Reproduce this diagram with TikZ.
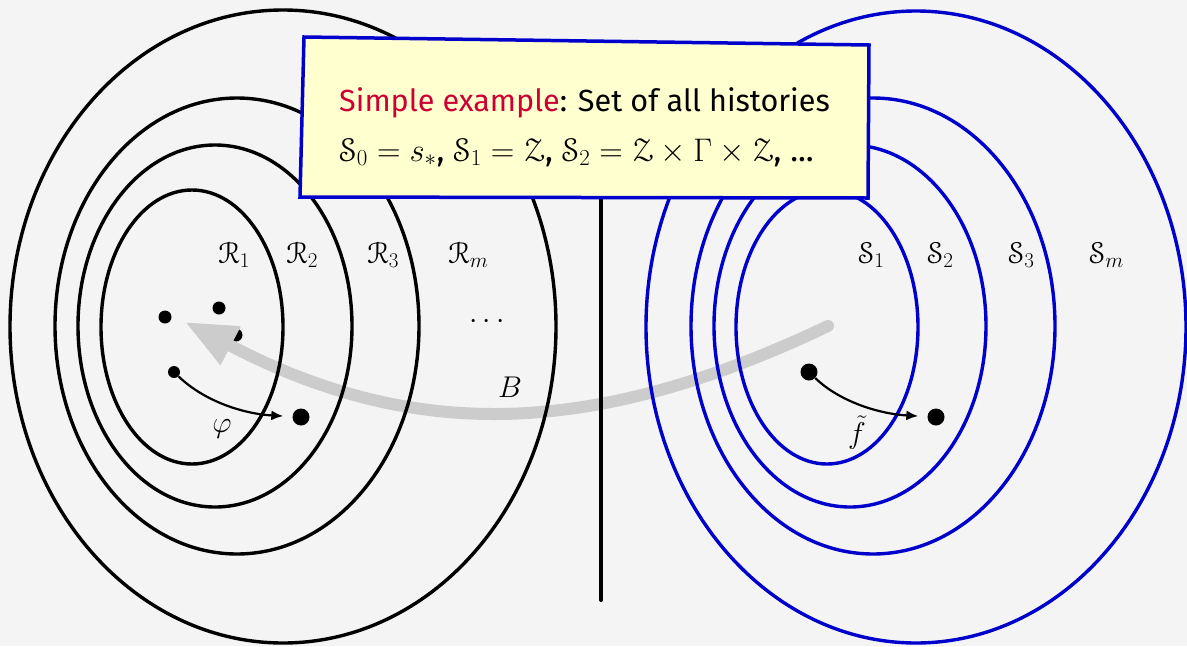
\RequirePackage{fix-cm}
\documentclass[tikz,border=0pt]{standalone}
\usepackage[mathcal]{euscript}
\DeclareFontFamily{U}{eus}{\skewchar\font'60}
\DeclareFontShape{U}{eus}{m}{n}{<-6>eusm5<6-8>eusm7<8->eusm10}{}
\DeclareFontShape{U}{eus}{b}{n}{<-6>eusb5<6-8>eusb7<8->eusb10}{}
\usepackage[no-math]{fontspec}
\newfontfamily\boxfont{Fira Sans}
\usetikzlibrary{arrows.meta}
\definecolor{bg}{RGB}{244,244,244}
\definecolor{dblue}{RGB}{0,0,204}
\definecolor{crim}{RGB}{204,0,51}
\definecolor{notey}{RGB}{255,255,208}
\definecolor{bgray}{RGB}{204,204,204}
\begin{document}
\begin{tikzpicture}[x=1pt,y=-1pt,
  ring/.style={line width=3.4pt, draw=black},
  bring/.style={line width=3.4pt, draw=dblue},
  dot/.style={circle, fill=black, inner sep=0pt, minimum size=13pt},
  bigdot/.style={circle, fill=black, inner sep=0pt, minimum size=17pt},
  maplink/.style={line width=2.2pt, -{Latex[length=12pt,width=10pt]}, shorten >=9pt},
  lab/.style={font=\fontsize{30}{36}\selectfont, inner sep=0pt},
  boxtext/.style={anchor=base west, inner sep=0pt, font=\boxfont\fontsize{30.6}{36}\selectfont}
]
\fill[bg] (0,0) rectangle (1187,646);
\useasboundingbox (0,0) rectangle (1187,646);

% dots
\node[dot] (a) at (165,317) {};
\node[dot] (b) at (219,308) {};
\node[dot] (c) at (236,335) {};
\node[dot, minimum size=12pt] (d) at (174,372) {};
\node[bigdot] (e) at (301,417) {};
\node[bigdot] (d2) at (809,372) {};
\node[bigdot] (e2) at (936,417) {};

% big gray arrow B
\coordinate (bs) at (828,326);
\coordinate (bt) at (187,323);
\draw[bgray, line width=12pt, line cap=round,
  -{Triangle[length=50pt,width=44pt,line width=1pt,round]}]
  (bs) .. controls (601,434) and (421,445) .. (bt);

% left ellipses
\draw[ring] (192,327) ellipse [x radius=91, y radius=137];
\draw[ring] (215,326) ellipse [x radius=137, y radius=181];
\draw[ring] (237,326) ellipse [x radius=182, y radius=228];
\draw[ring] (283,326.5) ellipse [x radius=273, y radius=316.5];
% right ellipses
\draw[bring] (827,327) ellipse [x radius=91, y radius=137];
\draw[bring] (850,326) ellipse [x radius=136, y radius=181];
\draw[bring] (873,326) ellipse [x radius=182, y radius=228];
\draw[bring] (916,327) ellipse [x radius=270, y radius=316];

% separator
\coordinate (vt) at (601,190);
\coordinate (vb) at (601,600);
\draw[line width=4pt, line cap=round] (vt) -- (vb);

% maps
\draw[maplink] (d) .. controls (205,402) and (245,414) .. (e);
\draw[maplink] (d2) .. controls (840,402) and (880,414) .. (e2);

% labels
\node[lab, anchor=base west] (r1) at (218,263) {$\mathcal{R}_1$};
\node[lab, anchor=base west] (r2) at (286,263) {$\mathcal{R}_2$};
\node[lab, anchor=base west] (r3) at (367,263) {$\mathcal{R}_3$};
\node[lab, anchor=base west] (rm) at (448,263) {$\mathcal{R}_m$};
\node[lab, anchor=base west] (s1) at (858,263) {$\mathcal{S}_1$};
\node[lab, anchor=base west] (s2) at (927,263) {$\mathcal{S}_2$};
\node[lab, anchor=base west] (s3) at (1008,263) {$\mathcal{S}_3$};
\node[lab, anchor=base west] (sm) at (1089,263) {$\mathcal{S}_m$};
\node[lab] (dts) at (487,322) {$\cdots$};
\node[lab] (phi) at (222,429) {$\varphi$};
\node[lab] (ft) at (857,433) {$\tilde{f}$};
\node[lab] (bl) at (510,387) {$B$};

% note box
\filldraw[fill=notey, draw=dblue, line width=3.5pt, line join=miter]
  (304,37) -- (869,45) -- (868,198) -- (300,197) -- cycle;
\node[boxtext] (l1) at (339,111) {\textcolor{crim}{Simple example}: Set of all histories};
\node[boxtext, font=\boxfont\fontsize{32.7}{39}\selectfont] (l2) at (339,161) {$\mathcal{S}_0=s_*$, $\mathcal{S}_1=\mathcal{Z}$, $\mathcal{S}_2=\mathcal{Z}\times\Gamma\times\mathcal{Z}$, ...};
\end{tikzpicture}
\end{document}
